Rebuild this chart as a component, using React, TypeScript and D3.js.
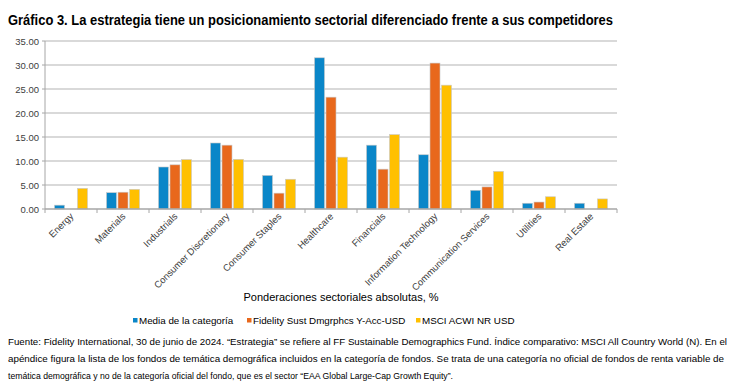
import React from "react";
import * as d3 from "d3";

const categories = [
  "Energy",
  "Materials",
  "Industrials",
  "Consumer Discretionary",
  "Consumer Staples",
  "Healthcare",
  "Financials",
  "Information Technology",
  "Communication Services",
  "Utilities",
  "Real Estate",
];
const seriesNames = [
  "Media de la categoría",
  "Fidelity Sust Dmgrphcs Y-Acc-USD",
  "MSCI ACWI NR USD",
];
const mediaCategoria = [0.8, 3.4, 8.75, 13.75, 7.0, 31.5, 13.3, 11.3, 3.9, 1.2, 1.2];
const fidelitySust = [0, 3.5, 9.2, 13.3, 3.3, 23.3, 8.3, 30.4, 4.6, 1.45, 0];
const msciAcwi = [4.3, 4.1, 10.3, 10.35, 6.2, 10.8, 15.5, 25.8, 7.85, 2.55, 2.1];
const yTicks = [0, 5, 10, 15, 20, 25, 30, 35];
const colors = ["#0a86c8", "#e8681c", "#ffc000"];

const title = "Gráfico 3. La estrategia tiene un posicionamiento sectorial diferenciado frente a sus competidores";
const xTitle = "Ponderaciones sectoriales absolutas, %";
const footnote = [
  "Fuente: Fidelity International, 30 de junio de 2024. “Estrategia” se refiere al FF Sustainable Demographics Fund. Índice comparativo: MSCI All Country World (N). En el",
  "apéndice figura la lista de los fondos de temática demográfica incluidos en la categoría de fondos. Se trata de una categoría no oficial de fondos de renta variable de",
  "temática demográfica y no de la categoría oficial del fondo, que es el sector “EAA Global Large-Cap Growth Equity”.",
];

export default function App() {
  const W = 747, H = 390;
  const left = 45, right = 617, top = 41, bottom = 209;
  const series = [mediaCategoria, fidelitySust, msciAcwi];
  const x0 = d3.scaleBand<string>().domain(categories).range([left, right]).padding(0);
  const x1 = d3
    .scaleBand<number>()
    .domain([0, 1, 2])
    .range([9.5, 42.5])
    .paddingInner(0.13)
    .paddingOuter(0);
  const y = d3.scaleLinear().domain([0, 35]).range([bottom, top]);
  const fmt = d3.format(".2f");
  const axisFont = "'Liberation Sans', Arial, sans-serif";
  const calibri = "'Liberation Sans Narrow', 'Liberation Sans', Arial, sans-serif";

  const legendX = [133, 247, 416];

  return (
    <svg width={W} height={H} style={{ position: "absolute", left: 0, top: 0, background: "#fff" }}>
      <text x={8} y={25} fontFamily={calibri} fontWeight="bold" fontSize={14.5} fill="#000"
        textLength={605} lengthAdjust="spacingAndGlyphs">
        {title}
      </text>
      {yTicks.map((t) => (
        <g key={t}>
          {t > 0 && (
            <line x1={left} x2={right} y1={y(t)} y2={y(t)} stroke="#b3b3b3" strokeWidth={1} />
          )}
          <line x1={left - 3} x2={left} y1={y(t)} y2={y(t)} stroke="#a6a6a6" strokeWidth={1} />
          <text x={left - 6} y={y(t) + 3.5} textAnchor="end" fontFamily={axisFont} fontSize={9.5} fill="#404040">
            {fmt(t)}
          </text>
        </g>
      ))}
      {categories.map((c, i) => (
        <g key={c} transform={`translate(${x0(c)},0)`}>
          {series.map((s, j) =>
            s[i] > 0 ? (
              <rect
                key={j}
                x={x1(j)}
                y={y(s[i])}
                width={x1.bandwidth()}
                height={y(0) - y(s[i])}
                fill={colors[j]}
                stroke="#c8c8c8"
                strokeWidth={0.6}
              />
            ) : null
          )}
        </g>
      ))}
      <line x1={left} x2={left} y1={top} y2={bottom} stroke="#a6a6a6" strokeWidth={1} />
      <line x1={left} x2={right} y1={bottom} y2={bottom} stroke="#a6a6a6" strokeWidth={1.5} />
      {categories.map((c) => (
        <line key={c} x1={x0(c) as number} x2={x0(c) as number} y1={bottom} y2={bottom + 4} stroke="#a6a6a6" strokeWidth={1} />
      ))}
      <line x1={right} x2={right} y1={bottom} y2={bottom + 4} stroke="#a6a6a6" strokeWidth={1} />
      {categories.map((c) => {
        const cx = (x0(c) as number) + x0.bandwidth() / 2 + 3;
        const cy = bottom + 8;
        return (
          <text key={c} transform={`translate(${cx},${cy}) rotate(-45)`} textAnchor="end"
            fontFamily={axisFont} fontSize={9.5} fill="#404040">
            {c}
          </text>
        );
      })}
      <text x={341} y={301} textAnchor="middle" fontFamily={axisFont} fontSize={11} fill="#000">
        {xTitle}
      </text>
      {seriesNames.map((n, j) => (
        <g key={n}>
          <rect x={legendX[j]} y={318} width={4.5} height={4.5} fill={colors[j]} />
          <text x={legendX[j] + 6} y={323.5} fontFamily={axisFont} fontSize={9.8} fill="#000">
            {n}
          </text>
        </g>
      ))}
      {footnote.map((l, i) => (
        <text key={i} x={8} y={345 + i * 17} fontFamily={calibri} fontSize={9.4} fill="#000"
          textLength={[719, 716, 445][i]} lengthAdjust="spacingAndGlyphs">
          {l}
        </text>
      ))}
    </svg>
  );
}
